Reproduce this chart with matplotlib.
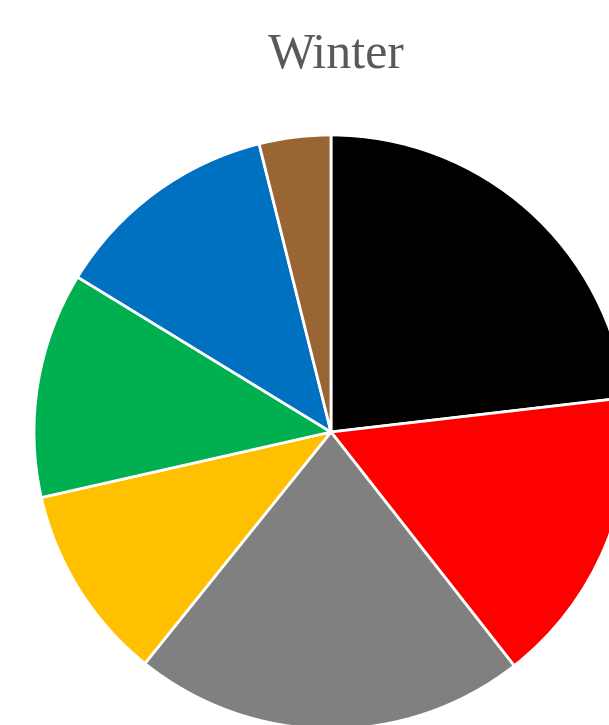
import matplotlib
matplotlib.use("Agg")
import matplotlib.pyplot as plt

# Winter share by category (percent), clockwise from 12 o'clock
categories = ["A", "B", "C", "D", "E", "F", "G"]
values = [23.2, 16.3, 21.4, 10.7, 12.3, 12.4, 3.9]
colors = ["#000000", "#FF0000", "#808080", "#FFC000", "#00B050", "#0070C0", "#996633"]
title = "Winter"

W, H, DPI = 609, 725, 100
fig = plt.figure(figsize=(W / DPI, H / DPI), dpi=DPI)
ax = fig.add_axes([0, 0, 1, 1])

cx, cy, r = 331, 432, 297  # pie centre and radius in pixels
ax.pie(values, colors=colors, startangle=90, counterclock=False,
       radius=1.0, wedgeprops=dict(edgecolor="white", linewidth=2.0))
ax.set_xlim(-cx / r, (W - cx) / r)
ax.set_ylim(-(H - cy) / r, cy / r)
ax.set_aspect("auto")
ax.axis("off")

fig.text(336 / W, 1 - 68 / H, title, ha="center", va="baseline",
         fontsize=36, color="#595959", family="Liberation Serif")

fig.savefig("out.png", dpi=DPI)
